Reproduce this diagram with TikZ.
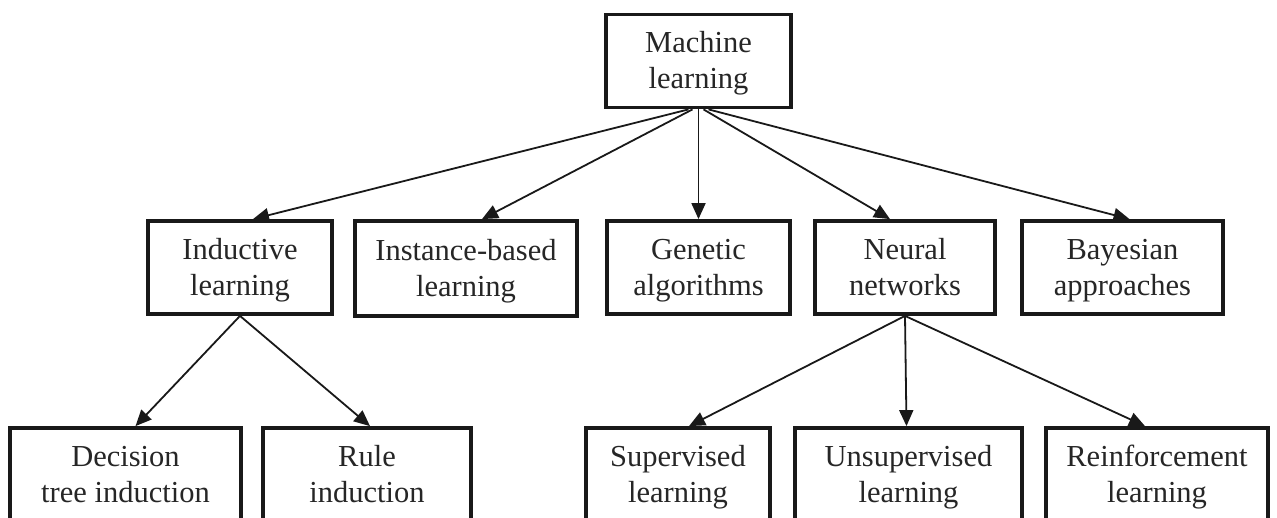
\documentclass[tikz,border=0pt]{standalone}
\usepackage{fontspec}
\setmainfont{Liberation Serif}
\usetikzlibrary{arrows.meta}
\newcommand\twolines[2]{\rule{0pt}{28pt}#1\\#2\rule[-8pt]{0pt}{8pt}}
\begin{document}
\begin{tikzpicture}[x=1pt,y=-1pt,
  box/.style={draw=black!90, line width=3.8pt, rectangle, minimum height=93pt, align=center, inner sep=0pt, text=black!85, font=\fontsize{30.5}{36}\selectfont},
  arr/.style={draw=black!90, line width=1.8pt, -{Triangle[length=16pt,width=14pt]}}]
\useasboundingbox (0,0) rectangle (1277,518);
\clip (0,0) rectangle (1277,518);
\fill[white] (0,0) rectangle (1277,518);
% top
\node[box, minimum width=185pt] (ml) at (698.5,61) {\twolines{Machine}{learning}};
% row 2
\node[box, minimum width=184pt] (ind) at (240,267.5) {\twolines{Inductive}{learning}};
\node[box, minimum width=222pt, minimum height=95pt] (inst) at (466,268.5) {\twolines{Instance-based}{learning}};
\node[box, minimum width=183pt] (gen) at (698.5,267.5) {\twolines{Genetic}{algorithms}};
\node[box, minimum width=180pt] (neu) at (905,267.5) {\twolines{Neural}{networks}};
\node[box, minimum width=201pt] (bay) at (1122.5,267.5) {\twolines{Bayesian}{approaches}};
% row 3
\node[box, minimum width=231pt] (dec) at (125.5,474.5) {\twolines{Decision}{tree induction}};
\node[box, minimum width=208pt] (rule) at (367,474.5) {\twolines{Rule}{induction}};
\node[box, minimum width=184pt] (sup) at (678,474.5) {\twolines{Supervised}{learning}};
\node[box, minimum width=227pt] (uns) at (908.5,474.5) {\twolines{Unsupervised}{learning}};
\node[box, minimum width=222pt] (rein) at (1157,474.5) {\twolines{Reinforcement}{learning}};
% arrows
\draw[arr] ([xshift=-10pt]ml.south) -- ([xshift=13pt]ind.north);
\draw[arr] ([xshift=-6pt]ml.south) -- ([xshift=16pt]inst.north);
\draw[arr] (ml.south) -- (gen.north);
\draw[arr] ([xshift=5pt]ml.south) -- ([xshift=-15pt]neu.north);
\draw[arr] ([xshift=10pt]ml.south) -- ([xshift=7pt]bay.north);
\draw[arr] (ind.south) -- ([xshift=10pt]dec.north);
\draw[arr] (ind.south) -- ([xshift=3pt]rule.north);
\draw[arr] (neu.south) -- ([xshift=11pt]sup.north);
\draw[arr] (neu.south) -- ([xshift=-2pt]uns.north);
\draw[arr] (neu.south) -- ([xshift=-12pt]rein.north);
\end{tikzpicture}
\end{document}
